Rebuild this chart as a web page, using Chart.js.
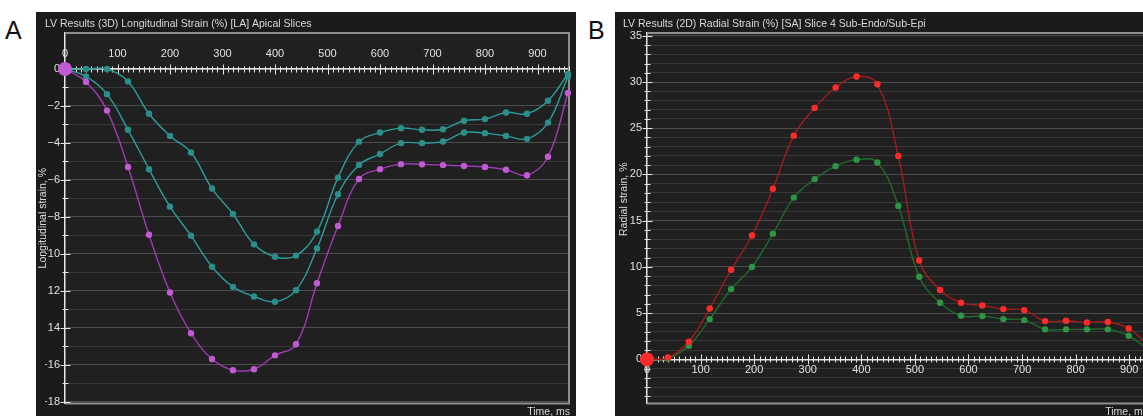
<!DOCTYPE html>
<html>
<head>
<meta charset="utf-8">
<script src="https://cdn.jsdelivr.net/npm/chart.js@4.4.0/dist/chart.umd.min.js"></script>
<style>
  html, body { margin: 0; padding: 0; background: #fff; width: 1143px; height: 416px; overflow: hidden; position: relative; font-family: "Liberation Sans", Arial, sans-serif; }
  .letter { position: absolute; font-size: 25px; color: #111; line-height: 1; }
  .panel { position: absolute; top: 12px; width: 540px; height: 410px; background: #1b1b1b; }
  .panel canvas { display: block; }
</style>
</head>
<body>
<div class="letter" style="left:5px; top:18px;">A</div>
<div class="letter" style="left:588px; top:18px;">B</div>
<div class="panel" style="left:36px;"><canvas id="chartA" width="540" height="410"></canvas></div>
<div class="panel" style="left:615px;"><canvas id="chartB" width="540" height="410"></canvas></div>

<script>
// Panel A - longitudinal strain, 3 apical curves (ms / %)
const aTimes = [0, 40, 80, 120, 160, 200, 240, 280, 320, 360, 400, 440, 480, 520, 560, 600, 640, 680, 720, 760, 800, 840, 880, 920, 958];
const aTeal1 = [0, 0, 0, -0.67, -2.42, -3.62, -4.52, -6.47, -7.85, -9.49, -10.16, -10.1, -8.8, -5.88, -3.93, -3.44, -3.2, -3.29, -3.26, -2.8, -2.71, -2.35, -2.42, -1.72, -0.27];
const aTeal2 = [0, -0.4, -1.36, -3.29, -5.42, -7.45, -9.02, -10.7, -11.79, -12.31, -12.6, -11.97, -9.71, -6.78, -5.19, -4.6, -4.01, -4.01, -3.92, -3.44, -3.47, -3.62, -3.78, -2.9, -0.4];
const aPurple = [0, -0.7, -2.25, -5.3, -8.97, -12.1, -14.3, -15.7, -16.3, -16.25, -15.5, -14.9, -11.6, -8.5, -5.95, -5.42, -5.15, -5.16, -5.2, -5.25, -5.3, -5.45, -5.75, -4.75, -1.3];
const aYTicks = [0, -2, -4, -6, -8, -10, -12, -14, -16, -18];
const aYLabels = ['0', '\u22122', '\u22124', '\u22126', '\u22128', '\u221210', '12', '14', '\u221216', '\u221218'];

// Panel B - radial strain, sub-endo / sub-epi
const bTimes = [0, 39, 78, 117, 157, 196, 235, 274, 313, 352, 391, 430, 469, 508, 547, 586, 626, 665, 704, 743, 782, 821, 860, 899, 938];
const bRed = [0, 0.2, 1.9, 5.5, 9.7, 13.4, 18.46, 24.2, 27.2, 29.4, 30.6, 29.76, 22.0, 10.7, 7.5, 6.13, 5.84, 5.44, 5.33, 4.14, 4.18, 4.0, 4.04, 3.35, 1.4];
const bGreen = [0, 0.1, 1.47, 4.36, 7.6, 10.0, 13.6, 17.5, 19.5, 20.9, 21.6, 21.3, 16.6, 8.94, 6.13, 4.72, 4.68, 4.36, 4.25, 3.25, 3.25, 3.25, 3.25, 2.56, 0.9];
const bYTicks = [0, 5, 10, 15, 20, 25, 30, 35];
const bYLabels = ['0', '5', '10', '15', '20', '25', '30', '35'];

Chart.defaults.font.family = '"Liberation Sans", Arial, sans-serif';
Chart.defaults.font.size = 11;
Chart.defaults.color = '#dcdcdc';

// plot background, frame and the little cross ticks on both axes
const panelDeco = {
    id: 'panelDeco',
    beforeDraw(chart, args, o) {
        const { ctx, chartArea: a } = chart;
        ctx.save();
        ctx.fillStyle = o.plotBg;
        ctx.fillRect(a.left, a.top, a.right - a.left, a.bottom - a.top);
        ctx.restore();
    },
    beforeDatasetsDraw(chart, args, o) {
        const { ctx, chartArea: a } = chart;
        const xs = chart.scales.x, ys = chart.scales.y;
        const x0 = Math.round(xs.getPixelForValue(0)) + 0.5;
        const y0 = Math.round(ys.getPixelForValue(0)) + 0.5;
        ctx.save();
        ctx.strokeStyle = o.frame;
        ctx.lineWidth = 2;
        ctx.beginPath();
        ctx.moveTo(a.left, a.top);
        ctx.lineTo(a.right, a.top);
        ctx.lineTo(a.right, a.bottom);
        ctx.lineTo(a.left, a.bottom);
        ctx.stroke();

        ctx.strokeStyle = o.tickColor;
        ctx.lineWidth = 1;
        ctx.beginPath();
        xs.ticks.forEach(t => {
            if (t.value % 10 !== 0) return;
            const p = Math.round(xs.getPixelForValue(t.value)) + 0.5;
            const h = t.value % 100 === 0 ? 5 : 3;
            ctx.moveTo(p, y0 - h);
            ctx.lineTo(p, y0 + h);
        });
        ys.ticks.forEach(t => {
            if (!Number.isInteger(t.value) || t.value > o.yTickTop) return;
            const p = Math.round(ys.getPixelForValue(t.value)) + 0.5;
            const h = t.value % o.yMajor === 0 ? 5 : 3;
            ctx.moveTo(x0 - h, p);
            ctx.lineTo(x0 + h, p);
        });
        ctx.stroke();
        ctx.restore();
    }
};

function toPoints(times, values) {
    return times.map((t, i) => ({ x: t, y: values[i] }));
}

function makeDataset(label, times, values, lineColor, dotColor, bigFirst) {
    return {
        label: label,
        data: toPoints(times, values),
        borderColor: lineColor,
        backgroundColor: dotColor,
        pointBackgroundColor: dotColor,
        pointBorderWidth: 0,
        pointRadius: times.map((t, i) => (i === 0 && bigFirst) ? 7 : 3.2),
        borderWidth: 1.4,
        tension: 0.4,
        clip: false
    };
}

function makeOptions(cfg) {
    return {
        responsive: false,
        animation: false,
        events: [],
        layout: { padding: { left: cfg.padLeft, right: cfg.padRight, top: 0, bottom: 0 } },
        scales: {
            x: {
                type: 'linear',
                position: { y: 0 },
                min: 0,
                max: cfg.xMax,
                afterFit: s => { s.height = 0; },
                grid: { display: true, drawOnChartArea: false, drawTicks: false },
                border: { display: true, color: '#e6e6e6', width: 1.5 },
                ticks: {
                    stepSize: 10,
                    maxTicksLimit: 1000,
                    autoSkip: false,
                    includeBounds: false,
                    maxRotation: 0,
                    padding: cfg.xLabelPad,
                    color: '#e0e0e0',
                    font: { size: 11 },
                    callback: v => (v % 100 === 0 ? String(v) : '')
                }
            },
            y: {
                min: cfg.yMin,
                max: cfg.yMax,
                afterFit: s => { s.width = cfg.yWidth; },
                grid: {
                    drawTicks: false,
                    lineWidth: 1,
                    color: c => {
                        const v = c.tick.value;
                        if (!Number.isInteger(v) || v > cfg.yGridTop) return 'rgba(0,0,0,0)';
                        return v % cfg.yMajor === 0 ? '#4d4d4d' : '#383838';
                    }
                },
                border: { display: true, color: '#e6e6e6', width: 1.5 },
                title: {
                    display: true,
                    text: cfg.yTitle,
                    color: '#dcdcdc',
                    font: { size: 10.5 },
                    padding: { top: cfg.yTitlePad, bottom: 0 }
                },
                ticks: {
                    stepSize: 1,
                    maxTicksLimit: 1000,
                    autoSkip: false,
                    includeBounds: false,
                    padding: cfg.yLabelPad,
                    color: '#e0e0e0',
                    font: { size: 11 },
                    callback: v => {
                        const i = cfg.yTicks.indexOf(v);
                        return i >= 0 ? cfg.yLabels[i] : '';
                    }
                }
            }
        },
        plugins: {
            legend: { display: false },
            tooltip: { enabled: false },
            title: {
                display: true,
                text: cfg.title,
                align: 'start',
                color: '#dadada',
                font: { size: 10.5, weight: 'normal' },
                padding: { top: 6, bottom: 2.4 }
            },
            subtitle: {
                display: true,
                text: 'Time, ms',
                position: 'bottom',
                align: 'end',
                color: '#dadada',
                font: { size: 10.5 },
                padding: { top: 2.5, bottom: 3.5 }
            },
            panelDeco: {
                plotBg: '#202020',
                frame: '#8e8e8e',
                tickColor: '#e6e6e6',
                yMajor: cfg.yMajor,
                yTickTop: cfg.yTickTop
            }
        }
    };
}

new Chart(document.getElementById('chartA'), {
    type: 'line',
    data: {
        datasets: [
            makeDataset('Apical 3', aTimes, aPurple, '#9c3cb3', '#c25ad3', true),
            makeDataset('Apical 2', aTimes, aTeal2, '#2c9d9a', '#2b8e8a', false),
            makeDataset('Apical 1', aTimes, aTeal1, '#2c9d9a', '#2b8e8a', false)
        ]
    },
    options: makeOptions({
        title: 'LV Results (3D) Longitudinal Strain (%) [LA] Apical Slices',
        yTitle: 'Longitudinal strain, %',
        padLeft: 9, padRight: 6,
        xMax: 960, xLabelPad: -22,
        yMin: -18.1, yMax: 1.95, yWidth: 20,
        yMajor: 2, yTickTop: 0, yGridTop: 0,
        yTicks: aYTicks, yLabels: aYLabels,
        yTitlePad: -8, yLabelPad: 5
    }),
    plugins: [panelDeco]
});

new Chart(document.getElementById('chartB'), {
    type: 'line',
    data: {
        datasets: [
            makeDataset('Sub-Endo', bTimes, bRed, '#a01c1c', '#ff2a2a', true),
            makeDataset('Sub-Epi', bTimes, bGreen, '#1f6a2e', '#2e9546', false)
        ]
    },
    options: makeOptions({
        title: 'LV Results (2D) Radial Strain (%) [SA] Slice 4 Sub-Endo/Sub-Epi',
        // leading spaces lift the rotated label a little, as in the original
        yTitle: '             Radial strain, %',
        padLeft: 8, padRight: 7,
        xMax: 935, xLabelPad: 4,
        yMin: -4.76, yMax: 35.3, yWidth: 24,
        yMajor: 5, yTickTop: 35, yGridTop: 35,
        yTicks: bYTicks, yLabels: bYLabels,
        yTitlePad: -5, yLabelPad: 5
    }),
    plugins: [panelDeco]
});
</script>
</body>
</html>
